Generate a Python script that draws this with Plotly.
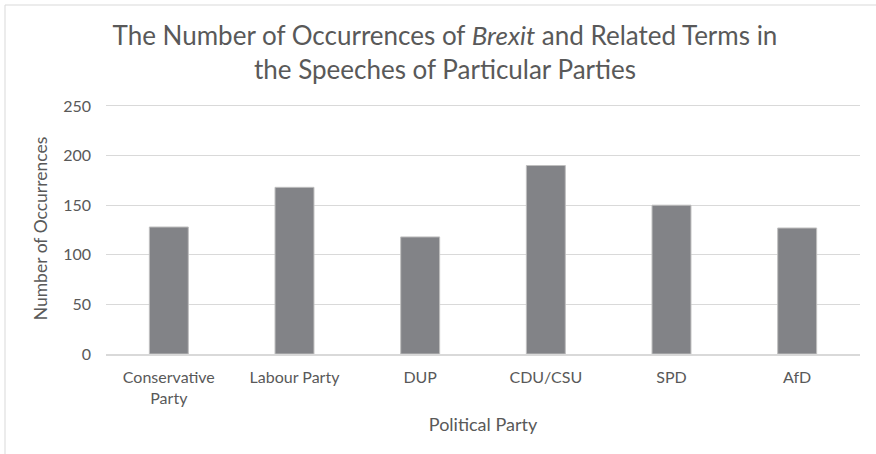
import plotly.graph_objects as go

parties = ["Conservative<br>Party", "Labour Party", "DUP", "CDU/CSU", "SPD", "AfD"]
occurrences = [128, 168, 118, 190, 150, 127]
y_ticks = [0, 50, 100, 150, 200, 250]
y_max = 253

W, H = 876, 454
L, R, T, B = 106, 16, 103, 100
pw, ph = W - L - R, H - T - B

fig = go.Figure()
fig.add_trace(go.Bar(
    x=parties, y=occurrences,
    marker=dict(color="#828387", line=dict(color="#bfbfbf", width=1)),
    width=0.31,
))

font = "Lato, 'Open Sans', sans-serif"
grey = "#595959"
fig.update_layout(
    width=W, height=H,
    margin=dict(l=L, r=R, t=T, b=B),
    paper_bgcolor="white", plot_bgcolor="white",
    showlegend=False,
    font=dict(family=font, color=grey, size=16),
    title=dict(
        text="The Number of Occurrences of <i>Brexit</i> and Related Terms in<br>the Speeches of Particular Parties",
        x=445 / W, xanchor="center", y=1 - 45 / H, yanchor="middle",
        font=dict(size=26, color=grey, family=font),
    ),
    xaxis=dict(
        showgrid=False, showline=True, linecolor="#d9d9d9", linewidth=2,
        ticks="", tickfont=dict(size=16, color=grey),
        ticklabelstandoff=8,
        title=dict(text="Political Party", font=dict(size=18, color=grey), standoff=12),
    ),
    yaxis=dict(
        range=[0, y_max], tickvals=y_ticks, showgrid=True, gridcolor="#d9d9d9", gridwidth=1,
        zeroline=False, ticks="", tickfont=dict(size=16, color=grey),
        ticklabelstandoff=14,
        title=dict(text="Number of Occurrences", font=dict(size=17.5, color=grey), standoff=11),
    ),
)

# chart frame border
x0 = (5 - L) / pw
y1 = (H - 5 - B) / ph
fig.add_shape(type="rect", xref="paper", yref="paper",
              x0=x0, x1=(W + 20 - L) / pw, y0=(-20 - B) / ph, y1=y1,
              line=dict(color="#d9d9d9", width=1), fillcolor="rgba(0,0,0,0)", layer="below")

fig.write_html("out.html")
